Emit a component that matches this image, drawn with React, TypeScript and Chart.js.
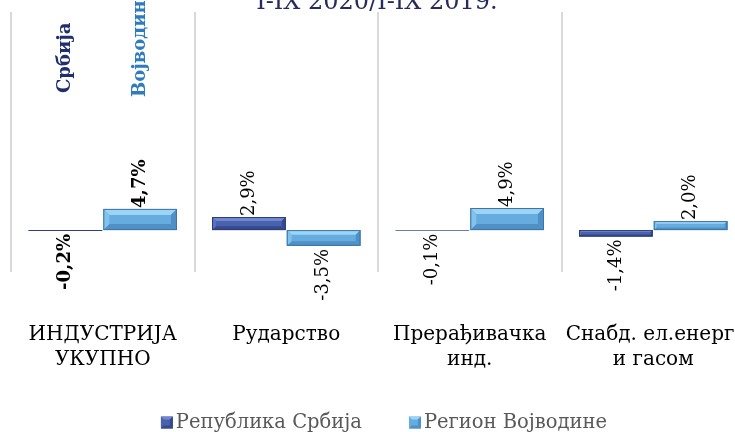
import React, { useEffect, useRef } from 'react';
import { Chart, registerables } from 'chart.js';

Chart.register(...registerables);

const categories: string[][] = [
  ['ИНДУСТРИЈА', 'УКУПНО'],
  ['Рударство'],
  ['Прерађивачка', 'инд.'],
  ['Снабд. ел.енерг.', 'и гасом'],
];
const serbiaValues = [-0.2, 2.9, -0.1, -1.4];
const vojvodinaValues = [4.7, -3.5, 4.9, 2.0];
const seriesNames = ['Република Србија', 'Регион Војводине'];
const sideLabels = ['Србија', 'Војводина'];
const titleText = 'I-IX 2020/I-IX 2019.';

const FONT = '"DejaVu Serif", "Liberation Serif", serif';

const palettes = [
  { base: '#4862AE', light: '#7088D0', side: '#5872BE', dark: '#36498C', outline: '#2C3C78', text: '#1F2E6E' },
  { base: '#66ACDF', light: '#9CD4F6', side: '#82C2EC', dark: '#4F90C6', outline: '#3C74A8', text: '#2E7BC0' },
];

const fmt = (v: number) => v.toFixed(1).replace('.', ',') + '%';

function poly(ctx: CanvasRenderingContext2D, pts: number[][], color: string) {
  ctx.beginPath();
  ctx.moveTo(pts[0][0], pts[0][1]);
  for (let i = 1; i < pts.length; i++) ctx.lineTo(pts[i][0], pts[i][1]);
  ctx.closePath();
  ctx.fillStyle = color;
  ctx.fill();
}

const bevelPlugin = {
  id: 'bevelBars',
  afterDatasetsDraw(chart: any) {
    const ctx: CanvasRenderingContext2D = chart.ctx;
    chart.data.datasets.forEach((_ds: any, di: number) => {
      const meta = chart.getDatasetMeta(di);
      const pal = palettes[di];
      meta.data.forEach((bar: any) => {
        const { x, y, base, width } = bar.getProps(['x', 'y', 'base', 'width'], true);
        const l = x - width / 2;
        const r = x + width / 2;
        const t = Math.min(y, base);
        const b = Math.max(y, base);
        const h = b - t;
        ctx.save();
        if (h < 3) {
          ctx.fillStyle = pal.outline;
          ctx.fillRect(l, t, r - l, h);
          ctx.restore();
          return;
        }
        const bs = Math.min(6, h * 0.3);
        ctx.fillStyle = pal.base;
        ctx.fillRect(l, t, r - l, h);
        poly(ctx, [[l, t], [r, t], [r - bs, t + bs], [l + bs, t + bs]], pal.light);
        poly(ctx, [[l, b], [r, b], [r - bs, b - bs], [l + bs, b - bs]], pal.dark);
        poly(ctx, [[l, t], [l + bs, t + bs], [l + bs, b - bs], [l, b]], pal.side);
        poly(ctx, [[r, t], [r - bs, t + bs], [r - bs, b - bs], [r, b]], pal.dark);
        ctx.strokeStyle = pal.outline;
        ctx.lineWidth = 1;
        ctx.strokeRect(l + 0.5, t + 0.5, r - l - 1, h - 1);
        ctx.restore();
      });
    });
  },
};

const labelPlugin = {
  id: 'rotLabels',
  afterDatasetsDraw(chart: any) {
    const ctx: CanvasRenderingContext2D = chart.ctx;
    chart.data.datasets.forEach((ds: any, di: number) => {
      const meta = chart.getDatasetMeta(di);
      meta.data.forEach((bar: any, i: number) => {
        const v = ds.data[i] as number;
        const { x, y, base } = bar.getProps(['x', 'y', 'base'], true);
        ctx.save();
        ctx.font = `${i === 0 ? 'bold ' : ''}18px ${FONT}`;
        ctx.fillStyle = '#000';
        ctx.textBaseline = 'middle';
        if (v >= 0) {
          ctx.translate(x, Math.min(y, base) - 1);
          ctx.textAlign = 'left';
        } else {
          ctx.translate(x, Math.max(y, base) + 3);
          ctx.textAlign = 'right';
        }
        ctx.rotate(-Math.PI / 2);
        ctx.fillText(fmt(v), 0, 0);
        ctx.restore();
      });
    });
    // side labels over the first category
    const top = chart.chartArea.top;
    const offsets = [81, 85];
    sideLabels.forEach((txt, di) => {
      const bar = chart.getDatasetMeta(di).data[0];
      ctx.save();
      ctx.font = `bold 18px ${FONT}`;
      ctx.fillStyle = palettes[di].text;
      ctx.textBaseline = 'middle';
      ctx.textAlign = 'left';
      ctx.translate(bar.x, top + offsets[di]);
      ctx.rotate(-Math.PI / 2);
      ctx.fillText(txt, 0, 0);
      ctx.restore();
    });
  },
};

const decorPlugin = {
  id: 'decor',
  afterDraw(chart: any) {
    const ctx: CanvasRenderingContext2D = chart.ctx;
    const W = chart.width;
    // title (partly cut off at top)
    ctx.save();
    ctx.font = `24px ${FONT}`;
    ctx.fillStyle = '#262A5C';
    ctx.textAlign = 'center';
    ctx.textBaseline = 'alphabetic';
    ctx.fillText(titleText, W / 2 - 3, 9);
    ctx.restore();
    // legend
    ctx.save();
    ctx.font = `19.5px ${FONT}`;
    const box = 12;
    const gapText = 3;
    const gapItem = 47;
    const widths = seriesNames.map((n) => ctx.measureText(n).width);
    const total = widths.reduce((a, w) => a + box + gapText + w, 0) + gapItem;
    let cx = W / 2 + 4 - total / 2;
    const cy = 422.5;
    seriesNames.forEach((n, di) => {
      const pal = palettes[di];
      const l = cx, t = cy - box / 2, r = cx + box, b = cy + box / 2, bs = 3;
      ctx.fillStyle = pal.base;
      ctx.fillRect(l, t, box, box);
      poly(ctx, [[l, t], [r, t], [r - bs, t + bs], [l + bs, t + bs]], pal.light);
      poly(ctx, [[l, b], [r, b], [r - bs, b - bs], [l + bs, b - bs]], pal.dark);
      poly(ctx, [[r, t], [r - bs, t + bs], [r - bs, b - bs], [r, b]], pal.dark);
      ctx.fillStyle = '#595959';
      ctx.textAlign = 'left';
      ctx.textBaseline = 'middle';
      ctx.fillText(n, cx + box + gapText, cy);
      cx += box + gapText + widths[di] + gapItem;
    });
    ctx.restore();
  },
};

export default function App() {
  const ref = useRef<HTMLCanvasElement | null>(null);
  useEffect(() => {
    if (!ref.current) return;
    const chart = new Chart(ref.current, {
      type: 'bar',
      data: {
        labels: categories as any,
        datasets: [
          {
            label: seriesNames[0],
            data: serbiaValues,
            backgroundColor: palettes[0].base,
            borderWidth: 0,
            categoryPercentage: 0.815,
            barPercentage: 0.985,
          },
          {
            label: seriesNames[1],
            data: vojvodinaValues,
            backgroundColor: palettes[1].base,
            borderWidth: 0,
            categoryPercentage: 0.815,
            barPercentage: 0.985,
          },
        ],
      },
      options: {
        responsive: false,
        animation: false,
        devicePixelRatio: 1,
        layout: { padding: { left: 11, right: 15, top: 12, bottom: 0 } },
        plugins: {
          legend: { display: false },
          title: { display: false },
          tooltip: { enabled: false },
        },
        scales: {
          x: {
            grid: { offset: true, color: '#D9D9D9', lineWidth: 2, drawTicks: false },
            border: { display: false },
            ticks: {
              font: { family: FONT, size: 20, lineHeight: 1.25 },
              color: '#000',
              padding: 50,
              maxRotation: 0,
              autoSkip: false,
            },
            afterFit: (scale: any) => {
              scale.height = 160;
              scale.paddingLeft = 0;
              scale.paddingRight = 0;
            },
          },
          y: { display: false, min: -9.3, max: 48.4 },
        },
      },
      plugins: [bevelPlugin, labelPlugin, decorPlugin],
    });
    return () => chart.destroy();
  }, []);
  return (
    <div
      style={{
        position: 'fixed',
        left: 0,
        top: 0,
        width: 735,
        height: 432,
        overflow: 'hidden',
        background: '#fff',
      }}
    >
      <canvas ref={ref} width={760} height={432} style={{ display: 'block', width: 760, height: 432 }} />
    </div>
  );
}
